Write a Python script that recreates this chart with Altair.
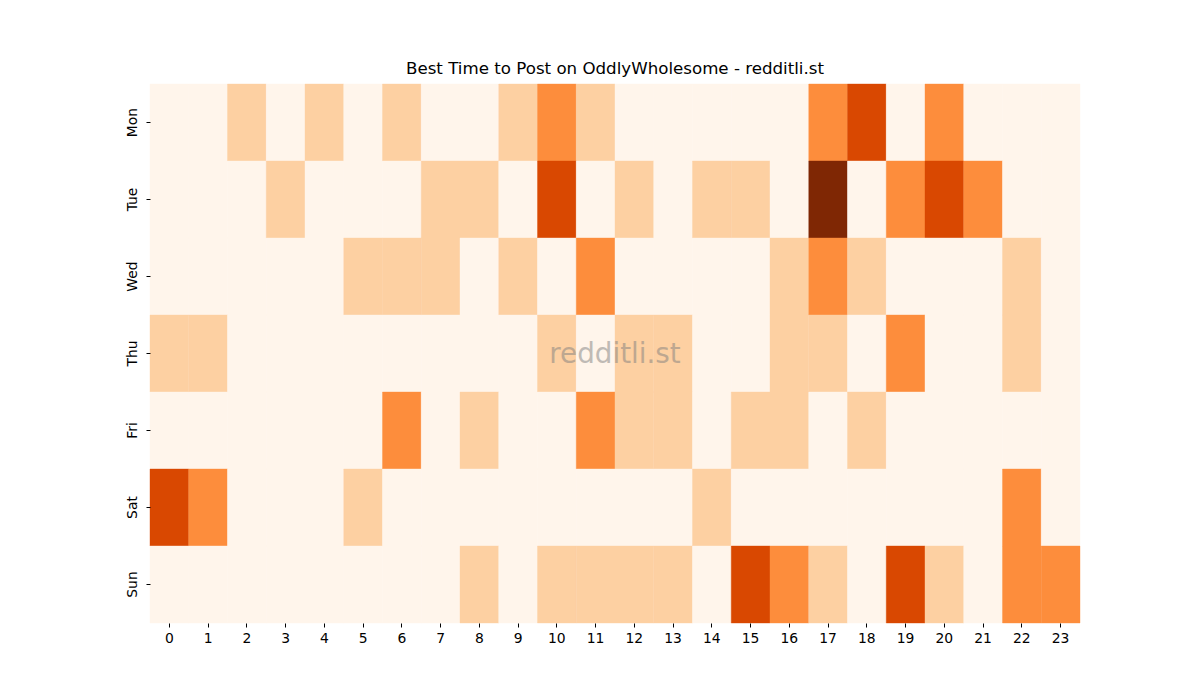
import altair as alt
import pandas as pd

days = ["Mon", "Tue", "Wed", "Thu", "Fri", "Sat", "Sun"]
hours = list(range(24))

mon = [0,0,1,0,1,0,1,0,0,1,2,1,0,0,0,0,0,2,3,0,2,0,0,0]
tue = [0,0,0,1,0,0,0,1,1,0,3,0,1,0,1,1,0,4,0,2,3,2,0,0]
wed = [0,0,0,0,0,1,1,1,0,1,0,2,0,0,0,0,1,2,1,0,0,0,1,0]
thu = [1,1,0,0,0,0,0,0,0,0,1,0,1,1,0,0,1,1,0,2,0,0,1,0]
fri = [0,0,0,0,0,0,2,0,1,0,0,2,1,1,0,1,1,0,1,0,0,0,0,0]
sat = [3,2,0,0,0,1,0,0,0,0,0,0,0,0,1,0,0,0,0,0,0,0,2,0]
sun = [0,0,0,0,0,0,0,0,1,0,1,1,1,1,0,3,2,1,0,3,1,0,2,2]

levels = [0, 1, 2, 3, 4]
colors = ["#fff5eb", "#fdd0a2", "#fd8d3c", "#d94801", "#7f2704"]

rows = []
for d, vals in zip(days, [mon, tue, wed, thu, fri, sat, sun]):
    for h, v in zip(hours, vals):
        rows.append({"day": d, "hour": str(h), "value": v})
df = pd.DataFrame(rows)

font = "DejaVu Sans"
cscale = alt.Scale(domain=levels, range=colors)

heat = alt.Chart(df).mark_rect(strokeWidth=0.4).encode(
    x=alt.X("hour:N", sort=[str(h) for h in hours], title=None,
            axis=alt.Axis(labelAngle=0, domain=False, tickSize=4, tickColor="#000",
                          labelFontSize=13.9, labelFont=font, labelColor="#000", labelPadding=4)),
    y=alt.Y("day:N", sort=days, title=None,
            axis=alt.Axis(labelAngle=270, labelAlign="center", labelBaseline="bottom",
                          domain=False, tickSize=4, tickColor="#000",
                          labelFontSize=13.9, labelFont=font, labelColor="#000", labelPadding=7)),
    color=alt.Color("value:O", scale=cscale, legend=None),
    stroke=alt.Stroke("value:O", scale=cscale, legend=None),
)

wm = alt.Chart(pd.DataFrame({"t": ["redditli.st"]})).mark_text(
    font=font, fontSize=27.8, color="#808080", opacity=0.5
).encode(text="t:N", x=alt.value(465), y=alt.value(271))

chart = alt.layer(heat, wm).properties(
    width=930, height=539,
    title=alt.TitleParams("Best Time to Post on OddlyWholesome - redditli.st",
                          font=font, fontSize=16.67, fontWeight="normal", color="#000", offset=6),
    autosize=alt.AutoSizeParams(type="none"),
    padding={"left": 150, "top": 84, "right": 120, "bottom": 77},
).configure_view(stroke=None).configure_scale(bandPaddingInner=0, bandPaddingOuter=0)

chart.save("out.html", embed_options={"renderer": "svg", "actions": False})
